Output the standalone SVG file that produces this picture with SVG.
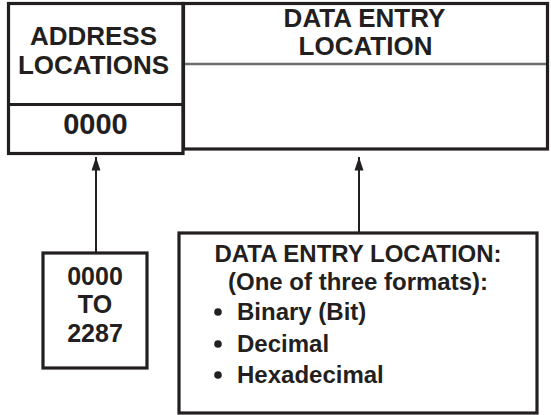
<svg xmlns="http://www.w3.org/2000/svg" width="551" height="415" viewBox="0 0 551 415">
<defs>
<style>
.box{fill:#fff;stroke:#231f20;stroke-width:3.2}
.t{font-family:"Liberation Sans",Arial,sans-serif;font-weight:bold;fill:#231f20}
.c{text-anchor:middle}
.conn{stroke:#231f20;stroke-width:2;fill:none}
</style>
<marker id="ah" markerUnits="userSpaceOnUse" markerWidth="14" markerHeight="10" viewBox="0 0 14 10" refX="13.5" refY="5" orient="auto">
<path d="M0 0.5 L13.5 5 L0 9.5 Z" fill="#231f20"/>
</marker>
</defs>
<rect width="551" height="415" fill="#fff"/>
<g id="address-box">
<rect class="box" x="8.5" y="3.5" width="174.5" height="150"/>
<line x1="8.5" y1="104.5" x2="183" y2="104.5" stroke="#231f20" stroke-width="3.2"/>
<text class="t c" x="93.5" y="45" font-size="26">ADDRESS</text>
<text class="t c" x="93.5" y="74" font-size="26">LOCATIONS</text>
<text class="t c" x="95.5" y="134" font-size="29">0000</text>
</g>
<g id="data-box">
<rect class="box" x="183.5" y="3.5" width="364" height="145.5"/>
<line x1="185" y1="64" x2="546" y2="64" stroke="#6d6e71" stroke-width="2.5"/>
<text class="t c" x="364.5" y="27" font-size="26">DATA ENTRY</text>
<text class="t c" x="365.5" y="55" font-size="26">LOCATION</text>
</g>
<g id="range-box">
<rect class="box" x="43" y="253" width="104" height="115"/>
<text class="t c" x="95" y="285" font-size="25">0000</text>
<text class="t c" x="95" y="313" font-size="25">TO</text>
<text class="t c" x="95" y="342" font-size="25">2287</text>
</g>
<g id="formats-box">
<rect class="box" x="179" y="233" width="358" height="180"/>
<text class="t c" x="358" y="262" font-size="24">DATA ENTRY LOCATION:</text>
<text class="t c" x="358" y="290" font-size="24">(One of three formats):</text>
<circle cx="218" cy="312" r="3.8" fill="#231f20"/>
<circle cx="218" cy="344" r="3.8" fill="#231f20"/>
<circle cx="218" cy="375" r="3.8" fill="#231f20"/>
<text class="t" x="237" y="320" font-size="24">Binary (Bit)</text>
<text class="t" x="237" y="352" font-size="24">Decimal</text>
<text class="t" x="237" y="383" font-size="24">Hexadecimal</text>
</g>
<g id="connectors">
<line class="conn" x1="96" y1="252" x2="96" y2="157" marker-end="url(#ah)"/>
<line class="conn" x1="359" y1="232" x2="359" y2="157" marker-end="url(#ah)"/>
</g>
</svg>
